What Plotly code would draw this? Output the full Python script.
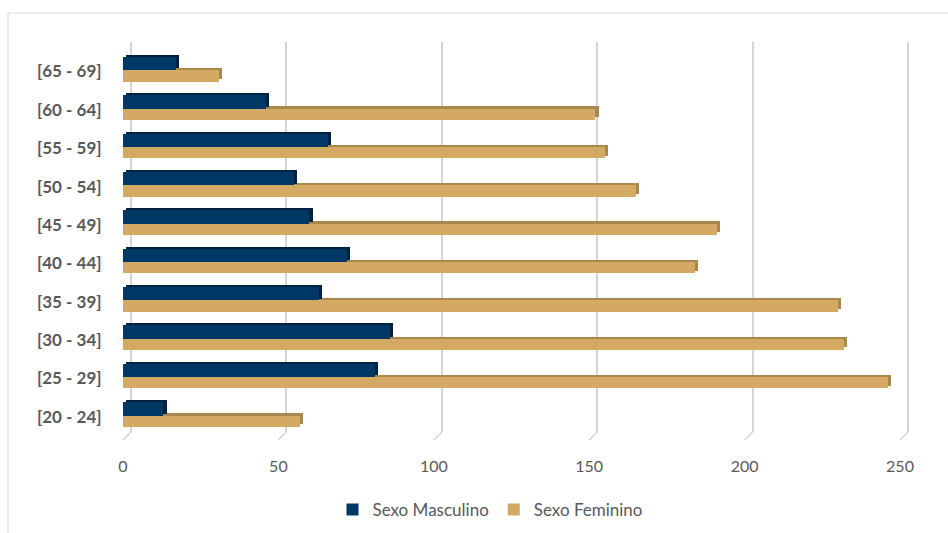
import plotly.graph_objects as go

# Age groups (bottom to top) and counts per sex
age_groups = ["[20 - 24]", "[25 - 29]", "[30 - 34]", "[35 - 39]", "[40 - 44]",
              "[45 - 49]", "[50 - 54]", "[55 - 59]", "[60 - 64]", "[65 - 69]"]
masculino = [13, 81, 86, 63, 72, 60, 55, 66, 46, 17]
feminino = [57, 246, 232, 230, 184, 191, 165, 155, 152, 31]
x_ticks = [0, 50, 100, 150, 200, 250]

# Page geometry
W, H = 948, 533
L, R, T, B = 110, 18, 42, 101
plot_w = W - L - R
plot_h = H - T - B
px_per_unit = 3.108
front_zero_px = 123      # where the bars start
back_zero_px = 131       # where the back-wall gridlines start
x_lo = (L - front_zero_px) / px_per_unit
x_hi = x_lo + plot_w / px_per_unit
wall_shift = (back_zero_px - front_zero_px) / px_per_unit
y_range = [-0.4, 9.77]

NAVY = "#003865"
NAVY_SIDE = "#00213f"
TAN = "#d3a964"
TAN_SIDE = "#a8884f"
GREY_TEXT = "#595959"
FONT = "Lato"

cap = 1.0  # extruded depth of the bars, in value units

fig = go.Figure()

# Extruded side/top faces first, front faces on top
fig.add_trace(go.Bar(
    y=age_groups, x=feminino, base=cap, orientation="h",
    offset=-0.19, width=0.28, marker=dict(color=TAN_SIDE, line=dict(width=0)),
    showlegend=False, hoverinfo="skip"))
fig.add_trace(go.Bar(
    y=age_groups, x=feminino, orientation="h", name="Sexo Feminino",
    offset=-0.26, width=0.29, marker=dict(color=TAN, line=dict(width=0)),
    legendrank=2))
fig.add_trace(go.Bar(
    y=age_groups, x=masculino, base=cap, orientation="h",
    offset=0.08, width=0.35, marker=dict(color=NAVY_SIDE, line=dict(width=0)),
    showlegend=False, hoverinfo="skip"))
fig.add_trace(go.Bar(
    y=age_groups, x=masculino, orientation="h", name="Sexo Masculino",
    offset=0.03, width=0.35, marker=dict(color=NAVY, line=dict(width=0)),
    legendrank=1))

# Floor edges under each back-wall gridline
shapes = []
for v in x_ticks:
    shapes.append(dict(
        type="line", xref="x2", yref="paper",
        x0=v, y0=0, x1=v - wall_shift, y1=-8 / plot_h,
        line=dict(color="#cfcfcf", width=1.2)))

# Chart area border
shapes.append(dict(
    type="rect", xref="paper", yref="paper", layer="below",
    x0=(8 - L) / plot_w, x1=(W + 20 - L) / plot_w,
    y0=-(H + 20 - (H - B)) / plot_h, y1=(H - B - 13) / plot_h,
    line=dict(color="#d9d9d9", width=1), fillcolor="rgba(0,0,0,0)"))

fig.update_layout(
    width=W, height=H,
    margin=dict(l=L, r=R, t=T, b=B),
    paper_bgcolor="white", plot_bgcolor="white",
    barmode="overlay",
    bargap=0,
    font=dict(family=FONT, color=GREY_TEXT),
    xaxis=dict(
        range=[x_lo, x_hi], tickvals=x_ticks,
        showgrid=False, zeroline=False, showline=False,
        ticks="outside", ticklen=20, tickcolor="rgba(0,0,0,0)",
        tickfont=dict(family=FONT, size=16, color=GREY_TEXT)),
    xaxis2=dict(
        overlaying="x", anchor="y", side="top",
        range=[x_lo - wall_shift, x_hi - wall_shift], tickvals=x_ticks,
        showticklabels=False, showgrid=True, gridcolor="#d4d4d4", gridwidth=1.6,
        zeroline=False, showline=False),
    yaxis=dict(
        type="category", range=y_range,
        showgrid=False, zeroline=False, showline=False,
        ticks="outside", ticklen=4, tickcolor="rgba(0,0,0,0)",
        tickfont=dict(family=FONT, size=17, color=GREY_TEXT, weight="bold")),
    legend=dict(
        orientation="h", xref="container", yref="container",
        x=490 / W, y=1 - 510 / H, xanchor="center", yanchor="middle",
        font=dict(family=FONT, size=17, color=GREY_TEXT),
        itemwidth=30, tracegroupgap=0),
    shapes=shapes,
    showlegend=True,
)

# Empty trace so the back-wall axis (and its gridlines) is drawn
fig.add_trace(go.Scatter(x=[None], y=[None], xaxis="x2", yaxis="y",
                         showlegend=False, hoverinfo="skip"))

fig.write_html("out.html")
